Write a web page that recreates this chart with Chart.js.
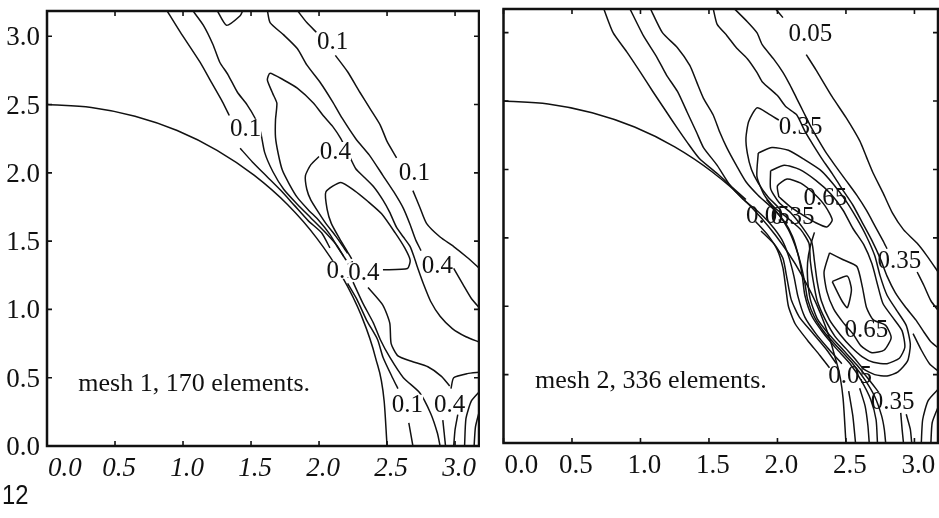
<!DOCTYPE html>
<html>
<head>
<meta charset="utf-8">
<script src="https://cdn.jsdelivr.net/npm/chart.js@4.4.1/dist/chart.umd.min.js"></script>
<style>
  html, body { margin: 0; padding: 0; background: #fff; }
  #wrap { position: relative; width: 939px; height: 518px; overflow: hidden; background: #fff; }
  #c1 { position: absolute; left: 0; top: 0; }
  #c2 { position: absolute; left: 480px; top: 0; }
  #page { position: absolute; left: 2px; top: 481px; font: 28px "Liberation Sans", Arial, sans-serif;
          line-height: 28px; color: #111; transform: scaleX(0.85); transform-origin: left top; }
</style>
</head>
<body>
<div id="wrap">
  <canvas id="c1" width="480" height="518"></canvas>
  <canvas id="c2" width="459" height="518"></canvas>
  <div id="page">12</div>
</div>
<script>
// axis ticks (both panels)
var tickVals = [0, 0.5, 1, 1.5, 2, 2.5, 3];
var tickText = ['0.0', '0.5', '1.0', '1.5', '2.0', '2.5', '3.0'];

// quarter circle r = 2.5 (same in both panels)
var arcPts = [[0,2.5],[0.326,2.479],[0.647,2.415],[0.957,2.31],[1.25,2.165],[1.522,1.983],[1.768,1.768],
  [1.983,1.522],[2.165,1.25],[2.31,0.957],[2.415,0.647],[2.479,0.326],[2.5,0]];

// ---- mesh 1 contour lines ----
var m1B1 = [[0.88,3.19],[0.98,3.03],[1.125,2.81],[1.21,2.66],[1.29,2.52],[1.34,2.42]];
var m1B2 = [[1.42,2.18],[1.51,2.08],[1.62,1.97],[1.72,1.87],[1.82,1.76],[1.92,1.65],[2.02,1.56],[2.08,1.45]];
var m1B3 = [[2.21,1.19],[2.28,1.07],[2.35,0.92],[2.43,0.78],[2.47,0.65],[2.54,0.50],[2.58,0.42]];
var m1B4 = [[2.66,0.17],[2.69,0]];
var m1C1 = [[1.07,3.19],[1.15,3.08],[1.22,2.94],[1.27,2.81],[1.33,2.72],[1.40,2.59],[1.47,2.50],[1.53,2.40],
  [1.57,2.30],[1.60,2.15],[1.66,2.01],[1.74,1.88],[1.84,1.77],[1.94,1.67],[2.04,1.57],[2.13,1.47],[2.18,1.39]];
var m1C2 = [[2.25,1.20],[2.32,1.05],[2.40,0.90],[2.45,0.78],[2.52,0.65],[2.62,0.50],[2.74,0.39],[2.82,0.24],[2.87,0.095],[2.89,0]];
var m1V = [[1.25,3.19],[1.32,3.08],[1.42,3.15],[1.44,3.19]];
var m1T = [[2.20,1.36],[2.14,1.45],[2.08,1.55],[2.00,1.65],[1.92,1.73],[1.84,1.82],[1.78,1.92],[1.73,2.02],[1.70,2.14],
  [1.68,2.26],[1.68,2.39],[1.69,2.51],[1.66,2.58],[1.62,2.68],[1.64,2.73],[1.74,2.68],[1.84,2.62],[1.96,2.51],[2.03,2.42],
  [2.10,2.34],[2.16,2.25],[2.22,2.13],[2.27,2.03],[2.33,1.97],[2.40,1.90],[2.47,1.80],[2.52,1.71],[2.57,1.60],[2.62,1.53],
  [2.67,1.46],[2.70,1.38],[2.73,1.29],[2.77,1.18],[2.82,1.06],[2.89,0.95],[2.98,0.86],[3.08,0.80],[3.18,0.76]];
var m1M = [[2.00,2.12],[1.94,2.06],[1.90,1.98],[1.91,1.88],[1.94,1.80],[1.99,1.72],[2.05,1.63],[2.12,1.54],[2.17,1.47],[2.21,1.41]];
var m1In = [[2.47,1.29],[2.65,1.30],[2.67,1.36],[2.63,1.45],[2.56,1.56],[2.46,1.70],[2.36,1.79],[2.26,1.87],[2.16,1.93],
  [2.05,1.86],[2.06,1.73],[2.09,1.63],[2.15,1.52],[2.21,1.42],[2.24,1.37]];
var m1D1 = [[1.62,3.19],[1.64,3.10],[1.74,3.01],[1.84,2.91],[1.91,2.79],[2.01,2.66],[2.10,2.52],[2.17,2.40],[2.27,2.25],
  [2.37,2.13],[2.47,1.98],[2.55,1.86],[2.62,1.74],[2.67,1.62],[2.71,1.51],[2.75,1.43]];
var m1D2 = [[2.99,1.30],[3.06,1.18],[3.12,1.08],[3.18,1.01]];
var m1E1 = [[1.84,3.19],[1.91,3.10],[1.98,3.03]];
var m1E2 = [[2.12,2.86],[2.21,2.74],[2.30,2.59],[2.375,2.47],[2.45,2.35],[2.50,2.23],[2.57,2.11]];
var m1E3 = [[2.69,1.87],[2.74,1.75],[2.79,1.63],[2.89,1.53],[2.99,1.46],[3.09,1.38],[3.18,1.30]];
var m1F1 = [[2.36,1.16],[2.47,1.03],[2.52,0.90],[2.53,0.75],[2.58,0.66],[2.68,0.62],[2.80,0.58],[2.90,0.51],[2.96,0.44]];
var m1F2 = [[2.91,0.19],[2.93,0]];
var m1U1 = [[3.18,0.54],[3.09,0.53],[2.99,0.50],[2.97,0.42]];
var m1U2 = [[3.02,0.23],[3.00,0.12],[2.99,0]];
var m1W1 = [[3.18,0.40],[3.12,0.33],[3.08,0.20],[3.07,0]];
var m1W2 = [[3.18,0.26],[3.15,0.14],[3.14,0]];

var m1LabelText = ['0.1', '0.1', '0.4', '0.1', '0.1', '0.4', '0.4', '0.1', '0.4'];
var m1LabelX = [2.10, 1.46, 2.12, 2.70, 2.17, 2.33, 2.87, 2.65, 2.96];
var m1LabelY = [2.97, 2.33, 2.16, 2.01, 1.29, 1.28, 1.33, 0.31, 0.31];

// ---- mesh 2 contour lines ----
var m2R1a = [[0.73,3.18],[0.80,3.00],[0.90,2.86],[1.00,2.71],[1.09,2.57],[1.19,2.42],[1.27,2.30],[1.34,2.20],[1.43,2.08],
  [1.56,1.97],[1.68,1.86],[1.77,1.78]];
var m2R1b = [[1.88,1.55],[1.98,1.45],[2.04,1.35],[2.07,1.20],[2.10,1.05],[2.16,0.92],[2.26,0.80],[2.36,0.68],[2.43,0.58]];
var m2R1c = [[2.52,0.38],[2.55,0.20],[2.57,0]];
var m2R2a = [[0.92,3.18],[1.02,2.98],[1.12,2.82],[1.19,2.69],[1.27,2.57],[1.34,2.42],[1.41,2.27],[1.46,2.16],[1.56,2.03],
  [1.65,1.89],[1.75,1.78],[1.85,1.70],[1.95,1.60],[2.03,1.49],[2.08,1.37],[2.12,1.22],[2.15,1.07],[2.20,0.92],[2.28,0.80],
  [2.38,0.68],[2.47,0.58]];
var m2R2b = [[2.60,0.40],[2.64,0.27],[2.66,0.13],[2.67,0]];
var m2R3 = [[1.07,3.18],[1.16,3.00],[1.27,2.89],[1.36,2.76],[1.41,2.64],[1.46,2.52],[1.53,2.40],[1.58,2.27],[1.63,2.16],
  [1.70,2.03],[1.77,1.91],[1.86,1.81],[1.96,1.72],[2.05,1.62],[2.11,1.51],[2.15,1.38],[2.18,1.23],[2.20,1.08],[2.25,0.93],
  [2.33,0.81],[2.43,0.69],[2.53,0.58],[2.61,0.46],[2.68,0.32],[2.72,0.17],[2.73,0]];
var m2G1 = [[1.92,1.78],[2.01,1.67],[2.08,1.56],[2.13,1.44],[2.17,1.31],[2.20,1.17],[2.22,1.05],[2.27,0.92],[2.35,0.80],
  [2.45,0.69],[2.55,0.58],[2.64,0.46],[2.71,0.34],[2.76,0.20],[2.78,0.10],[2.79,0]];
var m2G2 = [[1.84,1.62],[1.93,1.52],[2.00,1.41],[2.04,1.28],[2.06,1.14],[2.08,1.00],[2.13,0.87],[2.22,0.75],[2.31,0.64],[2.38,0.55]];
var m2L35a = [[2.01,1.72],[1.93,1.80],[1.86,1.90],[1.81,2.00],[1.78,2.12],[1.77,2.23],[1.79,2.35],[1.85,2.45],[1.93,2.41],[2.01,2.36]];
var m2L35b = [[2.27,1.54],[2.24,1.44],[2.22,1.32],[2.22,1.20],[2.24,1.05],[2.29,0.91],[2.38,0.79],[2.48,0.68],[2.58,0.57],
  [2.67,0.46],[2.74,0.37]];
var m2L35c = [[2.94,0.21],[2.97,0.10],[2.98,0]];
var m2LU = [[2.01,1.80],[2.00,1.88],[2.07,1.93],[2.17,1.90],[2.27,1.82],[2.35,1.73],[2.40,1.63],[2.36,1.58],[2.28,1.61],
  [2.18,1.67],[2.09,1.73],[2.01,1.80]];
var m2N1 = [[1.95,1.99],[2.05,2.03],[2.16,2.00],[2.28,1.92],[2.39,1.82],[2.48,1.70],[2.55,1.57],[2.63,1.45],[2.69,1.31],
  [2.73,1.16],[2.77,1.02],[2.84,0.92],[2.91,0.82],[2.93,0.70],[2.89,0.62],[2.80,0.58],[2.70,0.59],[2.62,0.63],[2.54,0.70],
  [2.46,0.79],[2.38,0.90],[2.32,1.04],[2.29,1.18],[2.27,1.33],[2.25,1.47],[2.18,1.58],[2.10,1.68],[2.01,1.76],[1.95,1.86],[1.95,1.99]];
var m2N2 = [[1.86,2.12],[1.96,2.16],[2.08,2.14],[2.20,2.07],[2.32,1.99],[2.41,1.89],[2.50,1.77],[2.58,1.64],[2.65,1.51],
  [2.71,1.37],[2.75,1.22],[2.80,1.08],[2.87,0.97],[2.94,0.86],[2.97,0.72],[2.95,0.60],[2.88,0.52],[2.80,0.49],[2.71,0.50],
  [2.63,0.54],[2.57,0.61],[2.50,0.69],[2.42,0.78],[2.35,0.90],[2.29,1.04],[2.26,1.19],[2.24,1.33],[2.23,1.46],[2.17,1.56],
  [2.08,1.64],[1.98,1.72],[1.90,1.82],[1.85,1.95],[1.86,2.12]];
var m2L65 = [[2.38,1.39],[2.48,1.34],[2.58,1.29],[2.62,1.14],[2.65,0.99],[2.70,0.90],[2.79,0.86],[2.83,0.77],[2.78,0.68],
  [2.69,0.66],[2.61,0.71],[2.55,0.80],[2.48,0.88],[2.41,0.98],[2.36,1.11],[2.34,1.25],[2.38,1.39]];
var m2Peak = [[2.40,1.18],[2.51,1.22],[2.54,1.12],[2.51,0.99],[2.47,1.04],[2.40,1.18]];
var m2R4 = [[1.53,3.18],[1.56,3.06],[1.63,2.98],[1.70,2.89],[1.78,2.81],[1.85,2.71],[1.89,2.64],[2.00,2.54],[2.06,2.46],
  [2.14,2.40],[2.20,2.28],[2.26,2.18],[2.33,2.07],[2.40,1.97],[2.47,1.86],[2.55,1.74],[2.62,1.61],[2.69,1.48],[2.75,1.35],
  [2.80,1.22],[2.86,1.10],[2.93,1.00],[3.01,0.90],[3.07,0.81],[3.12,0.74],[3.18,0.69]];
var m2R5a = [[1.68,3.18],[1.78,3.08],[1.85,3.00],[1.89,2.91],[1.97,2.81],[2.04,2.71],[2.09,2.62],[2.14,2.52],[2.19,2.42],
  [2.24,2.32],[2.29,2.23],[2.35,2.13],[2.42,2.03],[2.50,1.92],[2.58,1.81],[2.65,1.70],[2.71,1.59],[2.77,1.48],[2.80,1.42]];
var m2R5b = [[3.02,1.25],[3.07,1.15],[3.12,1.04],[3.18,0.96]];
var m2R6a = [[1.98,3.18],[2.04,3.11]];
var m2R6b = [[2.21,2.84],[2.28,2.73],[2.40,2.53],[2.50,2.38],[2.60,2.21],[2.65,2.09],[2.70,1.97],[2.77,1.83],[2.84,1.68],
  [2.92,1.56],[3.02,1.46],[3.09,1.37],[3.18,1.24]];
var m2Q1 = [[2.99,0.80],[3.05,0.68],[3.11,0.58],[3.18,0.52]];
var m2V1 = [[3.18,0.40],[3.10,0.31],[3.06,0.17],[3.05,0]];
var m2V2 = [[3.18,0.28],[3.13,0.15],[3.12,0]];
var m2F2 = [[2.90,0.22],[2.91,0.10],[2.92,0]];

var m2LabelText = ['0.05', '0.35', '0.65', '0.05', '0.35', '0.35', '0.65', '0.05', '0.35'];
var m2LabelX = [2.24, 2.17, 2.35, 1.93, 2.11, 2.89, 2.65, 2.53, 2.84];
var m2LabelY = [3.00, 2.32, 1.80, 1.67, 1.66, 1.34, 0.84, 0.50, 0.31];

var m1Lines = [m1B1, m1B2, m1B3, m1B4, m1C1, m1C2, m1V, m1T, m1M, m1In, m1D1, m1D2, m1E1, m1E2, m1E3,
  m1F1, m1F2, m1U1, m1U2, m1W1, m1W2];
var m2Lines = [m2R1a, m2R1b, m2R1c, m2R2a, m2R2b, m2R3, m2G1, m2G2, m2L35a, m2L35b, m2L35c, m2LU, m2N1, m2N2, m2L65,
  m2Peak, m2R4, m2R5a, m2R5b, m2R6a, m2R6b, m2Q1, m2V1, m2V2, m2F2];

var INK = '#111';
var SERIF = '"Liberation Serif", "Times New Roman", serif';

function lineSet(pts, arc) {
  var ds = {
    data: pts.map(function (p) { return { x: p[0], y: p[1] }; }),
    showLine: true, pointRadius: 0, borderColor: INK, borderWidth: 1.5, fill: false,
    tension: arc ? 0 : 0.2
  };
  if (arc) ds.cubicInterpolationMode = 'monotone';
  return ds;
}

// frame, inner ticks, tick labels, contour labels, caption
var framePlugin = {
  id: 'frame',
  afterDatasetsDraw: function (chart, args, o) {
    var ctx = chart.ctx, a = chart.chartArea, sx = chart.scales.x, sy = chart.scales.y;
    ctx.save();
    ctx.strokeStyle = INK;
    ctx.lineWidth = 2.5;
    ctx.strokeRect(a.left, a.top, a.right - a.left, a.bottom - a.top);
    ctx.lineWidth = 1.6;
    ctx.beginPath();
    tickVals.forEach(function (v) {
      var px = sx.getPixelForValue(v), py = sy.getPixelForValue(v);
      ctx.moveTo(px, a.bottom); ctx.lineTo(px, a.bottom - 5);
      ctx.moveTo(px, a.top); ctx.lineTo(px, a.top + 5);
      ctx.moveTo(a.left, py); ctx.lineTo(a.left + 5, py);
      ctx.moveTo(a.right, py); ctx.lineTo(a.right - 5, py);
    });
    ctx.stroke();

    ctx.fillStyle = INK;
    ctx.textBaseline = 'alphabetic';
    ctx.font = (o.italicX ? 'italic ' : '') + '27px ' + SERIF;
    tickVals.forEach(function (v, i) {
      var px = sx.getPixelForValue(v);
      if (i === 0) { ctx.textAlign = 'left'; ctx.fillText(tickText[i], a.left + 1, a.bottom + 30); }
      else { ctx.textAlign = 'center'; ctx.fillText(tickText[i], px + 4, a.bottom + 30); }
    });
    if (o.yLabels) {
      ctx.font = '27px ' + SERIF;
      ctx.textAlign = 'right';
      tickVals.forEach(function (v, i) {
        ctx.fillText(tickText[i], a.left - 7, sy.getPixelForValue(v) + 9);
      });
    }

    ctx.font = '25px ' + SERIF;
    ctx.textAlign = 'center';
    o.labelText.forEach(function (t, i) {
      var cx = sx.getPixelForValue(o.labelX[i]), cy = sy.getPixelForValue(o.labelY[i]);
      if (o.labelBg) {
        var w = ctx.measureText(t).width;
        ctx.fillStyle = '#fff';
        ctx.fillRect(cx - w / 2, cy - 9, w, 18);
        ctx.fillStyle = INK;
      }
      ctx.fillText(t, cx, cy + 8.5);
    });

    ctx.font = '26px ' + SERIF;
    ctx.textAlign = 'left';
    ctx.fillText(o.note, sx.getPixelForValue(0.23), sy.getPixelForValue(0.40));
    ctx.restore();
  }
};

function makePanel(id, lines, xMax, yMax, yAxisW, xAxisH, pad, opts) {
  var sets = [lineSet(arcPts, true)].concat(lines.map(function (l) { return lineSet(l, false); }));
  return new Chart(document.getElementById(id), {
    type: 'scatter',
    data: { datasets: sets },
    options: {
      responsive: false,
      animation: false,
      events: [],
      layout: { padding: pad },
      plugins: { legend: { display: false }, tooltip: { enabled: false }, frame: opts },
      scales: {
        x: {
          type: 'linear', min: 0, max: xMax,
          grid: { display: false }, border: { display: false }, ticks: { display: false },
          afterFit: function (s) { s.height = xAxisH; }
        },
        y: {
          type: 'linear', min: 0, max: yMax,
          grid: { display: false }, border: { display: false }, ticks: { display: false },
          afterFit: function (s) { s.width = yAxisW; }
        }
      }
    },
    plugins: [framePlugin]
  });
}

makePanel('c1', m1Lines, 3.176, 3.185, 47, 72, { top: 11, right: 1, left: 0, bottom: 0 }, {
  yLabels: true, italicX: true, labelBg: true, note: 'mesh 1, 170 elements.',
  labelText: m1LabelText, labelX: m1LabelX, labelY: m1LabelY
});
makePanel('c2', m2Lines, 3.172, 3.173, 23.5, 75, { top: 9, right: 1, left: 0, bottom: 0 }, {
  yLabels: false, italicX: false, labelBg: false, note: 'mesh 2, 336 elements.',
  labelText: m2LabelText, labelX: m2LabelX, labelY: m2LabelY
});
</script>
</body>
</html>
